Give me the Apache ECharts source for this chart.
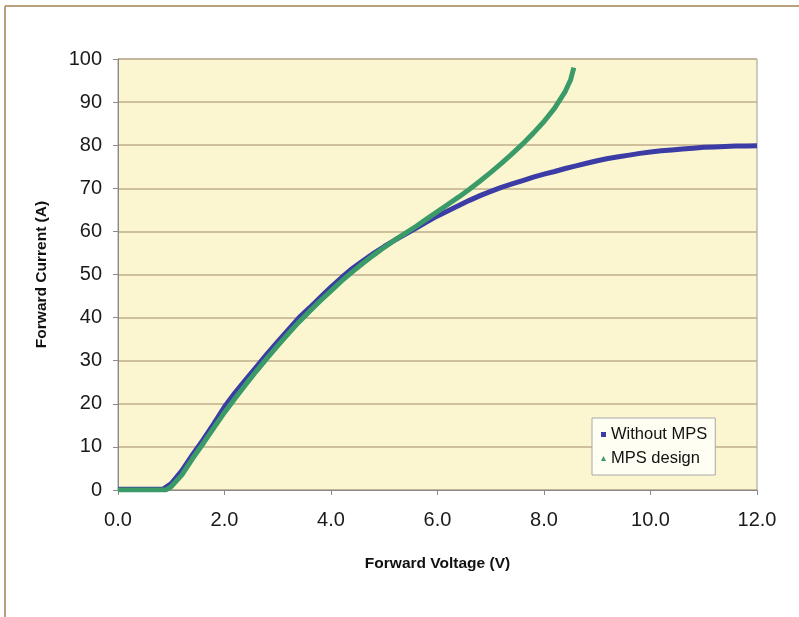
<!DOCTYPE html>
<html>
<head>
<meta charset="utf-8">
<script src="https://cdn.jsdelivr.net/npm/echarts@6/dist/echarts.min.js"></script>
<style>html,body{margin:0;padding:0;background:#fff;}#c{width:799px;height:617px;}</style>
</head>
<body>
<div id="c"></div>
<script>
// Without MPS: forward voltage (V) / forward current (A)
const noMpsV = [0.0,0.2,0.4,0.6,0.85,1.0,1.2,1.4,1.6,1.8,2.0,2.2,2.4,2.6,2.8,3.0,3.2,3.4,3.6,3.8,4.0,4.2,4.4,4.6,4.8,5.0,5.2,5.4,5.6,5.8,6.0,6.2,6.4,6.6,6.8,7.0,7.2,7.4,7.6,7.8,8.0,8.2,8.4,8.6,8.8,9.0,9.2,9.4,9.6,9.8,10.0,10.2,10.4,10.6,10.8,11.0,11.2,11.4,11.6,11.8,12.0];
const noMpsI = [0.2,0.2,0.2,0.2,0.2,1.5,4.5,8.2,11.7,15.4,19.3,22.6,25.6,28.6,31.6,34.4,37.2,40.0,42.3,44.7,47.1,49.3,51.4,53.2,54.9,56.5,58.0,59.4,60.8,62.2,63.6,64.8,66.0,67.2,68.3,69.3,70.2,71.0,71.8,72.6,73.3,73.9,74.6,75.2,75.8,76.4,76.9,77.3,77.7,78.1,78.4,78.7,78.9,79.1,79.3,79.5,79.6,79.7,79.8,79.8,79.9];
// MPS design
const mpsV = [0.0,0.2,0.4,0.6,0.9,1.0,1.2,1.4,1.6,1.8,2.0,2.2,2.4,2.6,2.8,3.0,3.2,3.4,3.6,3.8,4.0,4.2,4.4,4.6,4.8,5.0,5.2,5.4,5.6,5.8,6.0,6.2,6.4,6.6,6.8,7.0,7.2,7.4,7.6,7.8,8.0,8.2,8.4,8.5,8.56];
const mpsI = [0.0,0.0,0.0,0.0,0.0,0.8,3.5,7.3,10.8,14.4,18.0,21.3,24.5,27.6,30.6,33.5,36.3,39.0,41.5,43.9,46.2,48.5,50.6,52.6,54.5,56.3,58.0,59.6,61.2,62.9,64.6,66.3,68.0,69.8,71.7,73.7,75.8,78.0,80.3,82.8,85.5,88.6,92.5,95.2,98.0];
const seriesNames = ['Without MPS','MPS design'];
const xTicks = {min:0, max:12, interval:2};
const yTicks = {min:0, max:100, interval:10};

const zip = (a,b) => a.map((v,i)=>[v,b[i]]);
const FONT = "'Liberation Sans', Arial, sans-serif";
const BLUE = '#3b3ca5', GREEN = '#3a9a68';

const chart = echarts.init(document.getElementById('c'), null, {renderer:'canvas'});
chart.setOption({
  animation:false,
  backgroundColor:'#ffffff',
  graphic:[
    {type:'line', shape:{x1:5,y1:6,x2:799,y2:6}, style:{stroke:'#b9a07c', lineWidth:2}},
    {type:'line', shape:{x1:5,y1:6,x2:5,y2:617}, style:{stroke:'#b9a07c', lineWidth:2}}
  ],
  grid:{left:118, top:59, width:639, height:431, show:true, backgroundColor:'#fbf6cf', borderColor:'#9a9a9a', borderWidth:1},
  xAxis:{
    type:'value', min:xTicks.min, max:xTicks.max, interval:xTicks.interval,
    name:'Forward Voltage (V)', nameLocation:'middle', nameGap:66,
    nameTextStyle:{fontFamily:FONT, fontWeight:'bold', fontSize:15.5, color:'#111'},
    axisLine:{show:true, lineStyle:{color:'#8a8a8a', width:1}},
    axisTick:{show:true, length:5, lineStyle:{color:'#8a8a8a'}},
    axisLabel:{fontFamily:FONT, fontSize:20, color:'#1a1a1a', margin:20, formatter:v=>v.toFixed(1)},
    splitLine:{show:false}
  },
  yAxis:{
    type:'value', min:yTicks.min, max:yTicks.max, interval:yTicks.interval,
    name:'Forward Current (A)', nameLocation:'middle', nameGap:68,
    nameTextStyle:{fontFamily:FONT, fontWeight:'bold', fontSize:15.5, color:'#111'},
    axisLine:{show:true, lineStyle:{color:'#8a8a8a', width:1}},
    axisTick:{show:true, length:5, lineStyle:{color:'#8a8a8a'}},
    axisLabel:{fontFamily:FONT, fontSize:20, color:'#1a1a1a', margin:16},
    splitLine:{show:true, lineStyle:{color:'#bfae8c', width:1.5}}
  },
  legend:{
    left:592, top:418, orient:'vertical', itemGap:7, padding:[8,8,8,9],
    backgroundColor:'#fffef2', borderColor:'#a8a8a8', borderWidth:1,
    itemWidth:5, itemHeight:5,
    textStyle:{fontFamily:FONT, fontSize:16.5, color:'#111'},
    data:[{name:seriesNames[0], icon:'rect'},{name:seriesNames[1], icon:'triangle'}]
  },
  series:[
    {name:seriesNames[0], type:'line', data:zip(noMpsV,noMpsI), symbol:'rect', symbolSize:4, showSymbol:false,
     itemStyle:{color:BLUE}, lineStyle:{color:BLUE, width:5}},
    {name:seriesNames[1], type:'line', data:zip(mpsV,mpsI), symbol:'triangle', symbolSize:4, showSymbol:false,
     itemStyle:{color:GREEN}, lineStyle:{color:GREEN, width:5}}
  ]
});
</script>
</body>
</html>
